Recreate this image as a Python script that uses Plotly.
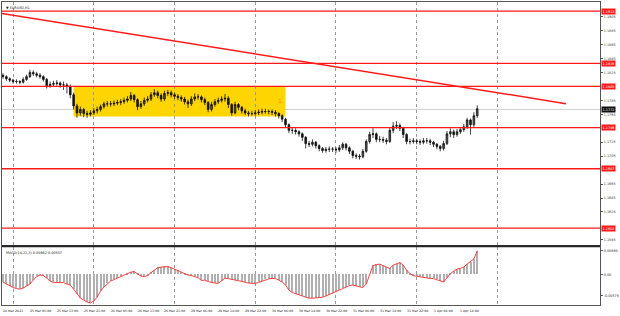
import plotly.graph_objects as go

# ---------------- data (H1 bars, bar index 0 = 24 Mar 21:00) ----------------
opens = [1.1821,1.1819,1.1816,1.1814,1.1812,1.1812,1.1811,1.1815,1.1819,1.1825,
1.1823,1.1821,1.1819,1.1815,1.1806,1.1808,1.1809,1.1810,1.1807,1.1807,
1.1805,1.1793,1.1777,1.1767,1.1772,1.1766,1.1765,1.1767,1.1770,1.1772,
1.1776,1.1780,1.1780,1.1780,1.1781,1.1782,1.1783,1.1785,1.1787,1.1792,
1.1786,1.1776,1.1780,1.1785,1.1787,1.1793,1.1796,1.1792,1.1787,1.1795,
1.1796,1.1793,1.1791,1.1789,1.1787,1.1783,1.1780,1.1787,1.1790,1.1790,
1.1786,1.1782,1.1772,1.1779,1.1783,1.1785,1.1787,1.1788,1.1779,1.1767,
1.1779,1.1775,1.1770,1.1767,1.1766,1.1766,1.1767,1.1768,1.1769,1.1769,
1.1769,1.1768,1.1766,1.1763,1.1758,1.1750,1.1742,1.1742,1.1740,1.1737,
1.1732,1.1723,1.1722,1.1725,1.1720,1.1716,1.1713,1.1715,1.1715,1.1715,
1.1714,1.1717,1.1722,1.1717,1.1712,1.1706,1.1705,1.1704,1.1712,1.1726,
1.1736,1.1737,1.1729,1.1729,1.1728,1.1726,1.1742,1.1748,1.1749,1.1745,
1.1736,1.1726,1.1726,1.1727,1.1726,1.1725,1.1727,1.1727,1.1725,1.1722,
1.1719,1.1716,1.1723,1.1737,1.1740,1.1736,1.1740,1.1743,1.1747,1.1757,
1.1750,1.1763]

closes = [1.1819,1.1816,1.1814,1.1812,1.1812,1.1811,1.1815,1.1819,1.1825,1.1823,
1.1821,1.1819,1.1815,1.1806,1.1808,1.1809,1.1810,1.1807,1.1807,1.1805,
1.1793,1.1777,1.1767,1.1772,1.1766,1.1765,1.1767,1.1770,1.1772,1.1776,
1.1780,1.1780,1.1780,1.1781,1.1782,1.1783,1.1785,1.1787,1.1792,1.1786,
1.1776,1.1780,1.1785,1.1787,1.1793,1.1796,1.1792,1.1787,1.1795,1.1796,
1.1793,1.1791,1.1789,1.1787,1.1783,1.1780,1.1787,1.1790,1.1790,1.1786,
1.1782,1.1772,1.1779,1.1783,1.1785,1.1787,1.1788,1.1779,1.1767,1.1779,
1.1775,1.1770,1.1767,1.1766,1.1766,1.1767,1.1768,1.1769,1.1769,1.1769,
1.1768,1.1766,1.1763,1.1758,1.1750,1.1742,1.1742,1.1740,1.1737,1.1732,
1.1723,1.1722,1.1725,1.1720,1.1716,1.1713,1.1715,1.1715,1.1715,1.1714,
1.1717,1.1722,1.1717,1.1712,1.1706,1.1705,1.1704,1.1712,1.1726,1.1736,
1.1737,1.1729,1.1729,1.1728,1.1726,1.1742,1.1748,1.1749,1.1745,1.1736,
1.1726,1.1726,1.1727,1.1726,1.1725,1.1727,1.1727,1.1725,1.1722,1.1719,
1.1716,1.1723,1.1737,1.1740,1.1736,1.1740,1.1743,1.1747,1.1757,1.1750,
1.1763,1.1773]

highs = [1.1824,1.1821,1.1818,1.1816,1.1815,1.1814,1.1818,1.1822,1.1829,1.1828,
1.1826,1.1824,1.1821,1.1817,1.1812,1.1813,1.1814,1.1812,1.1812,1.1810,
1.1808,1.1796,1.1780,1.1776,1.1774,1.1770,1.1771,1.1774,1.1776,1.1779,
1.1783,1.1784,1.1784,1.1785,1.1786,1.1787,1.1789,1.1791,1.1797,1.1794,
1.1788,1.1784,1.1789,1.1791,1.1797,1.1801,1.1799,1.1795,1.1799,1.1800,
1.1799,1.1796,1.1794,1.1792,1.1790,1.1786,1.1791,1.1795,1.1794,1.1792,
1.1789,1.1784,1.1783,1.1787,1.1789,1.1791,1.1794,1.1791,1.1781,1.1783,
1.1781,1.1777,1.1773,1.1770,1.1770,1.1771,1.1772,1.1773,1.1773,1.1772,
1.1772,1.1771,1.1768,1.1765,1.1760,1.1752,1.1746,1.1745,1.1742,1.1739,
1.1734,1.1727,1.1729,1.1727,1.1722,1.1718,1.1718,1.1719,1.1718,1.1718,
1.1721,1.1725,1.1724,1.1719,1.1714,1.1709,1.1708,1.1715,1.1729,1.1740,
1.1745,1.1739,1.1734,1.1733,1.1731,1.1746,1.1754,1.1755,1.1752,1.1747,
1.1738,1.1730,1.1731,1.1730,1.1729,1.1731,1.1731,1.1730,1.1727,1.1724,
1.1721,1.1727,1.1741,1.1745,1.1743,1.1744,1.1747,1.1751,1.1760,1.1759,
1.1768,1.1778]

lows = [1.1816,1.1813,1.1811,1.1809,1.1809,1.1808,1.1809,1.1813,1.1817,1.1820,
1.1818,1.1816,1.1812,1.1802,1.1803,1.1805,1.1806,1.1803,1.1800,1.1795,
1.1788,1.1772,1.1760,1.1763,1.1761,1.1760,1.1762,1.1764,1.1766,1.1769,
1.1773,1.1776,1.1776,1.1777,1.1778,1.1778,1.1780,1.1782,1.1784,1.1782,
1.1771,1.1773,1.1777,1.1782,1.1784,1.1790,1.1788,1.1783,1.1784,1.1791,
1.1789,1.1787,1.1785,1.1783,1.1779,1.1774,1.1777,1.1784,1.1786,1.1782,
1.1778,1.1768,1.1769,1.1776,1.1780,1.1782,1.1783,1.1774,1.1763,1.1765,
1.1771,1.1766,1.1764,1.1762,1.1763,1.1763,1.1764,1.1765,1.1766,1.1765,
1.1764,1.1762,1.1759,1.1754,1.1746,1.1738,1.1737,1.1736,1.1733,1.1727,
1.1716,1.1718,1.1719,1.1716,1.1712,1.1710,1.1710,1.1711,1.1711,1.1710,
1.1711,1.1714,1.1713,1.1708,1.1702,1.1701,1.1700,1.1702,1.1710,1.1723,
1.1731,1.1725,1.1725,1.1724,1.1722,1.1724,1.1738,1.1744,1.1741,1.1731,
1.1722,1.1722,1.1723,1.1722,1.1721,1.1722,1.1723,1.1721,1.1718,1.1715,
1.1712,1.1713,1.1721,1.1732,1.1731,1.1733,1.1737,1.1740,1.1744,1.1736,
1.1747,1.1760]

macd = [-0.00208,-0.00264,-0.00319,-0.00361,-0.00389,-0.00403,-0.00375,-0.00319,-0.00264,-0.00153,
-0.00056,-0.00014,-0.00028,-0.00097,-0.00181,-0.00222,-0.00222,-0.00208,-0.00222,-0.00264,
-0.00292,-0.00403,-0.00542,-0.00653,-0.00708,-0.00764,-0.00792,-0.00736,-0.00625,-0.00458,
-0.00347,-0.00250,-0.00181,-0.00139,-0.00097,-0.00056,0.00000,0.00028,0.00069,0.00083,
0.00028,-0.00042,-0.00056,-0.00028,0.00056,0.00125,0.00194,0.00208,0.00222,0.00222,
0.00194,0.00153,0.00111,0.00056,0.00014,-0.00014,-0.00028,-0.00056,-0.00083,-0.00167,
-0.00153,-0.00194,-0.00222,-0.00236,-0.00244,-0.00181,-0.00097,-0.00111,-0.00139,-0.00153,
-0.00167,-0.00194,-0.00222,-0.00236,-0.00244,-0.00244,-0.00222,-0.00181,-0.00139,-0.00119,
-0.00106,-0.00111,-0.00153,-0.00208,-0.00292,-0.00431,-0.00500,-0.00536,-0.00561,-0.00597,
-0.00625,-0.00653,-0.00661,-0.00647,-0.00639,-0.00633,-0.00597,-0.00561,-0.00514,-0.00472,
-0.00431,-0.00389,-0.00339,-0.00306,-0.00292,-0.00314,-0.00339,-0.00361,-0.00264,0.00000,
0.00250,0.00278,0.00292,0.00250,0.00208,0.00172,0.00264,0.00292,0.00333,0.00264,
0.00125,0.00028,-0.00028,-0.00047,-0.00061,-0.00083,-0.00106,-0.00106,-0.00111,-0.00139,
-0.00181,-0.00208,-0.00097,0.00028,0.00097,0.00153,0.00172,0.00208,0.00292,0.00356,
0.00439,0.00662]

time_label_bars = [0, 8, 16, 24, 32, 40, 48, 56, 64, 72, 80, 88, 96, 104, 112, 120, 128, 136]
time_labels = ["24 Mar 2021", "25 Mar 05:00", "25 Mar 13:00", "25 Mar 21:00", "26 Mar 05:00",
               "26 Mar 13:00", "26 Mar 21:00", "29 Mar 06:00", "29 Mar 14:00", "29 Mar 22:00",
               "30 Mar 06:00", "30 Mar 14:00", "30 Mar 22:00", "31 Mar 06:00", "31 Mar 14:00",
               "31 Mar 22:00", "1 Apr 06:00", "1 Apr 14:00"]
day_separator_bars = [3, 27, 51, 75, 99, 123, 147]

# price scale labels that are not hidden behind the level tags
price_ticks = [1.1585, 1.1625, 1.1645, 1.1665, 1.1705, 1.1725,
               1.1765, 1.1785, 1.1825, 1.1845, 1.1865, 1.1885, 1.1905]
level_values = [1.1913, 1.1838, 1.1805, 1.1746, 1.1687, 1.1602]
level_labels = ["1.1913", "1.1838", "1.1805", "1.1746", "1.1687", "1.1602"]
bid_price = 1.1772
bid_label = "1.1772"

trend_bars = [-0.6, 167.4]
trend_prices = [1.19099, 1.17803]

box_bars = [21, 84]
box_prices = [1.17617, 1.1805]
box_mark_bar, box_mark_price, box_mark_text = 82.5, 1.17846, "1"

macd_ticks = [-0.00579, 0.0, 0.00668]
macd_tick_labels = ["-0.00579", "0.00", "0.00668"]

bars = list(range(len(closes)))

# ---------------- figure ----------------
FONT = "DejaVu Sans"
fig = go.Figure()

fig.add_trace(go.Candlestick(
    x=bars, open=opens, high=highs, low=lows, close=closes,
    increasing=dict(line=dict(color="#111111", width=0.8), fillcolor="#555555"),
    decreasing=dict(line=dict(color="#111111", width=0.8), fillcolor="#111111"),
    whiskerwidth=0, showlegend=False, hoverinfo="skip", xaxis="x", yaxis="y"))

fig.add_trace(go.Bar(
    x=bars, y=macd, width=0.3, marker=dict(color="#b0b0b0", line=dict(width=0)),
    showlegend=False, hoverinfo="skip", xaxis="x2", yaxis="y2"))

fig.add_trace(go.Scatter(
    x=bars, y=macd, mode="lines", line=dict(color="#ff4040", width=1),
    showlegend=False, hoverinfo="skip", xaxis="x2", yaxis="y2"))

shapes = []
shapes.append(dict(type="rect", xref="x", yref="y", x0=box_bars[0], x1=box_bars[1],
                   y0=box_prices[0], y1=box_prices[1], fillcolor="#ffd500",
                   line=dict(width=0), layer="below"))
shapes.append(dict(type="line", xref="x domain", yref="y", x0=0, x1=1, y0=bid_price, y1=bid_price,
                   line=dict(color="#cfcfcf", width=1), layer="below"))
for lv in level_values:
    shapes.append(dict(type="line", xref="x domain", yref="y", x0=0, x1=1, y0=lv, y1=lv,
                       line=dict(color="#ff1a1a", width=1.3)))
shapes.append(dict(type="line", xref="x", yref="y", x0=trend_bars[0], x1=trend_bars[1],
                   y0=trend_prices[0], y1=trend_prices[1], line=dict(color="#ff1a1a", width=1.5)))
shapes.append(dict(type="line", xref="paper", yref="paper", x0=0, x1=1, y0=0.1941, y1=0.1941,
                   line=dict(color="#222222", width=2)))

annotations = []
for lv, txt in zip(level_values, level_labels):
    annotations.append(dict(x=1, xref="paper", y=lv, yref="y", xanchor="left", yanchor="middle",
                            text=txt, showarrow=False, xshift=1, bgcolor="#ff1a1a",
                            borderpad=0.6, font=dict(family=FONT, size=3.4, color="white")))
annotations.append(dict(x=1, xref="paper", y=bid_price, yref="y", xanchor="left", yanchor="middle",
                        text=bid_label, showarrow=False, xshift=1, bgcolor="#111111",
                        borderpad=0.6, font=dict(family=FONT, size=3.4, color="white")))
for b, t in zip(time_label_bars, time_labels):
    annotations.append(dict(x=b, xref="x", y=0, yref="paper", xanchor="left", yanchor="top",
                            text=t, showarrow=False, yshift=-2, xshift=-2,
                            font=dict(family=FONT, size=3.2, color="#222222")))
annotations.append(dict(x=0.004, xref="paper", y=1, yref="paper", xanchor="left", yanchor="top",
                        text="\u25bc EURUSD,H1", showarrow=False, yshift=-2,
                        font=dict(family=FONT, size=3.4, color="#222222")))
annotations.append(dict(x=0.004, xref="paper", y=0.1908, yref="paper", xanchor="left", yanchor="top",
                        text="MACD(14,22,3) 0.00662 0.00557", showarrow=False, yshift=-2,
                        font=dict(family=FONT, size=3.4, color="#222222")))
annotations.append(dict(x=box_mark_bar, xref="x", y=box_mark_price, yref="y", text=box_mark_text,
                        showarrow=False, font=dict(family=FONT, size=6, color="#ff8c00")))

xcommon = dict(range=[-0.3, 177.5], showticklabels=False, ticks="", tickvals=day_separator_bars,
               showgrid=True, gridcolor="#9a9a9a", griddash="dot", gridwidth=1,
               zeroline=False, showline=True, mirror=True, linecolor="#555555", linewidth=1)

fig.update_layout(
    width=620, height=316,
    margin=dict(l=1, r=19, t=1, b=11),
    paper_bgcolor="white", plot_bgcolor="white",
    showlegend=False, bargap=0,
    font=dict(family=FONT),
    xaxis=dict(domain=[0, 1], anchor="y", rangeslider=dict(visible=False), **xcommon),
    xaxis2=dict(domain=[0, 1], anchor="y2", matches="x", **xcommon),
    yaxis=dict(domain=[0.1974, 1], range=[1.15774, 1.19260], side="right",
               tickvals=price_ticks, ticktext=[f"{v:.4f}" for v in price_ticks],
               tickfont=dict(family=FONT, size=3.4, color="#333333"),
               ticks="outside", ticklen=2, tickcolor="#555555",
               showgrid=False, zeroline=False, showline=True, mirror=True,
               linecolor="#555555", linewidth=1),
    yaxis2=dict(domain=[0, 0.1908], range=[-0.00847, 0.00764], side="right",
                tickvals=macd_ticks, ticktext=macd_tick_labels,
                tickfont=dict(family=FONT, size=3.4, color="#333333"),
                ticks="outside", ticklen=2, tickcolor="#555555",
                showgrid=False, zeroline=False, showline=True, mirror=True,
                linecolor="#555555", linewidth=1),
    shapes=shapes, annotations=annotations,
)

fig.write_html("out.html")
